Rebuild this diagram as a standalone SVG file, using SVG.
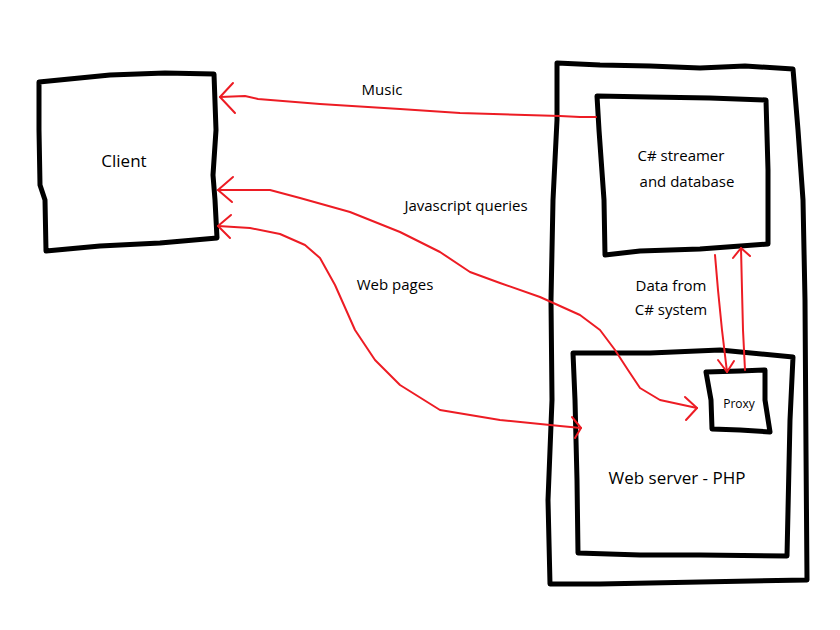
<svg xmlns="http://www.w3.org/2000/svg" width="840" height="630" viewBox="0 0 840 630">
<style>
.box{fill:none;stroke:#000;stroke-width:5;stroke-linejoin:round;stroke-linecap:round}
.wire{fill:none;stroke:#ed1c24;stroke-width:2;stroke-linecap:round;stroke-linejoin:round}
text{font-family:"Open Sans","Noto Sans",sans-serif;fill:#000}
.lbl{font-size:15px}
.big{font-size:17px}
</style>
<rect width="840" height="630" fill="#fff"/>
<g id="client">
<path class="box" d="M39,82 L110,75 L165,73 L214,74 L216,130 L213,175 L215,200 L217,238 L160,243 L100,246 L46,251 L45,200 L40,185 L39,130 Z"/>
<text class="big" x="124" y="167" text-anchor="middle">Client</text>
</g>
<g id="server">
<path class="box" d="M557,63 L600,65 L650,66 L700,68 L745,66 L793,69 L798,130 L803,200 L805,300 L806,450 L807,580 L700,582 L600,584 L550,584 L548,500 L552,400 L551,300 L553,200 L557,120 Z"/>
</g>
<g id="csharp">
<path class="box" d="M597,96 L650,97 L710,98 L766,100 L768,170 L768,244 L700,249 L640,251 L605,255 L604,200 L599,130 Z"/>
<text class="lbl" x="681" y="161" text-anchor="middle">C# streamer</text>
<text class="lbl" x="687" y="187" text-anchor="middle">and database</text>
</g>
<g id="webserver">
<path class="box" d="M573,353 L650,353 L720,350 L793,357 L790,420 L787,556 L700,555 L640,555 L578,553 L577,480 L575,400 Z"/>
<text class="big" x="677" y="484" text-anchor="middle">Web server - PHP</text>
</g>
<g id="proxy">
<path class="box" d="M706,372 L740,371 L765,370 L765,400 L770,432 L740,430 L712,429 L711,400 Z"/>
<text x="739" y="408" text-anchor="middle" font-size="12">Proxy</text>
</g>
<g id="connectors">
<path class="wire" d="M596,117 L580,117 L560,116 L460,113 L400,109 L320,104 L258,99 L245,96 L220,97"/>
<path class="wire" d="M233,83 L220,97 L235,113"/>
<path class="wire" d="M697,408 L660,400 L640,388 L628,370 L615,350 L600,330 L580,315 L540,297 L500,283 L470,272 L440,252 L400,232 L350,212 L300,198 L270,190 L218,190"/>
<path class="wire" d="M233,177 L218,190 L232,202"/>
<path class="wire" d="M685,397 L697,408 L686,420"/>
<path class="wire" d="M581,428 L560,426 L500,420 L440,410 L400,385 L375,360 L355,330 L335,285 L320,258 L305,245 L280,234 L250,228 L218,226"/>
<path class="wire" d="M231,215 L218,226 L230,238"/>
<path class="wire" d="M572,417 L581,428 L575,438"/>
<path class="wire" d="M715,255 L718,290 L722,330 L727,372"/>
<path class="wire" d="M718,360 L727,372 L734,361"/>
<path class="wire" d="M745,370 L743,330 L742,290 L741,248"/>
<path class="wire" d="M733,258 L741,248 L750,256"/>
<text class="lbl" x="382" y="95" text-anchor="middle">Music</text>
<text class="lbl" x="466" y="211" text-anchor="middle">Javascript queries</text>
<text class="lbl" x="395" y="290" text-anchor="middle">Web pages</text>
<text class="lbl" x="671" y="291" text-anchor="middle">Data from</text>
<text class="lbl" x="671" y="315" text-anchor="middle">C# system</text>
</g>
</svg>
